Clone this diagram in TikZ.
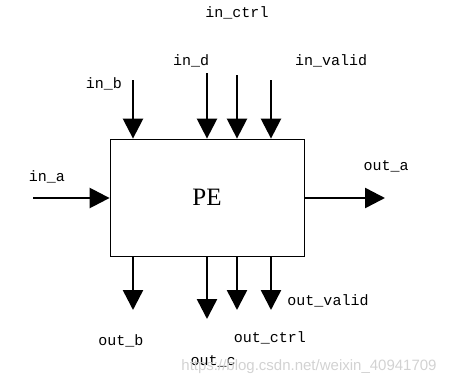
\documentclass[tikz,border=0pt]{standalone}
\usepackage{fontspec}
\setmainfont{Liberation Serif}
\setsansfont{Liberation Sans}
\setmonofont{Liberation Mono}
\usetikzlibrary{arrows.meta}

\begin{document}
\begin{tikzpicture}[x=1pt, y=-1pt,
    port/.style={line width=2.5pt, -{Triangle[length=20pt,width=20pt]}},
    sig/.style={anchor=base, inner sep=0pt, font=\fontsize{15}{15}\selectfont\ttfamily}]
\useasboundingbox (0,0) rectangle (454,383);
    % the processing element
    \node[draw, line width=0.8pt, minimum width=194pt, minimum height=117pt,
        inner sep=0pt, font=\fontsize{25}{25}\selectfont] (pe) at (207,197.5) {PE};
    % inputs from above
    \coordinate (inb) at (133,80);
    \coordinate (ind) at (207,73);
    \coordinate (inctrl) at (237,75);
    \coordinate (invalid) at (271,80);
    \draw[port] (inb) -- (inb |- pe.north);
    \draw[port] (ind) -- (ind |- pe.north);
    \draw[port] (inctrl) -- (inctrl |- pe.north);
    \draw[port] (invalid) -- (invalid |- pe.north);
    % outputs below
    \coordinate (outb) at (133,310);
    \coordinate (outc) at (207,319);
    \coordinate (outctrl) at (237,310);
    \coordinate (outvalid) at (271,310);
    \draw[port] (outb |- pe.south) -- (outb);
    \draw[port] (outc |- pe.south) -- (outc);
    \draw[port] (outctrl |- pe.south) -- (outctrl);
    \draw[port] (outvalid |- pe.south) -- (outvalid);
    % left and right
    \coordinate (ina) at (33,198);
    \coordinate (outa) at (385,198);
    \draw[port] (ina) -- (ina -| pe.west);
    \draw[port] (outa -| pe.east) -- (outa);
    % signal names
    \node[sig] (l_inctrl) at (237,17) {in\_ctrl};
    \node[sig] (l_ind) at (191,65) {in\_d};
    \node[sig] (l_invalid) at (331,65) {in\_valid};
    \node[sig] (l_inb) at (104,88) {in\_b};
    \node[sig] (l_ina) at (47,181) {in\_a};
    \node[sig] (l_outa) at (386,170) {out\_a};
    \node[sig] (l_outvalid) at (328,305) {out\_valid};
    \node[sig] (l_outctrl) at (270,342) {out\_ctrl};
    \node[sig] (l_outb) at (121,345) {out\_b};
    \node[sig] (l_outc) at (213,365) {out\_c};
    \node[anchor=base, inner sep=0pt, text=gray!35, font=\fontsize{15}{15}\selectfont\sffamily]
        (mark) at (309,370) {https://blog.csdn.net/weixin\_40941709};
\end{tikzpicture}
\end{document}
